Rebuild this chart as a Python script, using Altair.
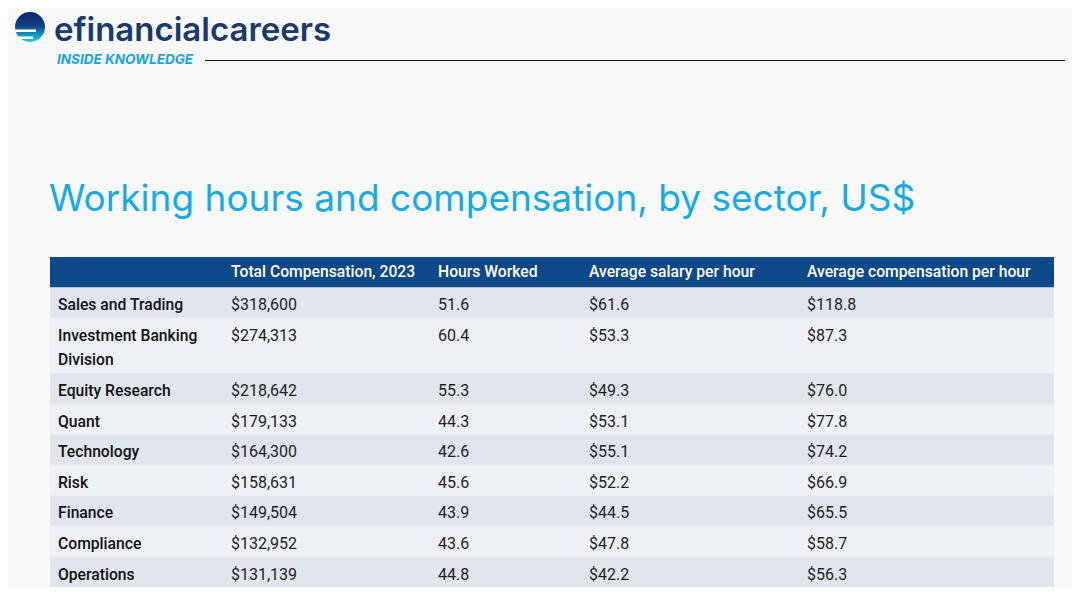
import textwrap
import altair as alt
import pandas as pd

# ---------------- data ----------------
sectors = ["Sales and Trading", "Investment Banking Division", "Equity Research", "Quant",
           "Technology", "Risk", "Finance", "Compliance", "Operations"]
total_comp = [318600, 274313, 218642, 179133, 164300, 158631, 149504, 132952, 131139]
hours_worked = [51.6, 60.4, 55.3, 44.3, 42.6, 45.6, 43.9, 43.6, 44.8]
salary_per_hour = [61.6, 53.3, 49.3, 53.1, 55.1, 52.2, 44.5, 47.8, 42.2]
comp_per_hour = [118.8, 87.3, 76.0, 77.8, 74.2, 66.9, 65.5, 58.7, 56.3]
column_headers = ["", "Total Compensation, 2023", "Hours Worked",
                  "Average salary per hour", "Average compensation per hour"]
title_text = "Working hours and compensation, by sector, US$"
brand_name = "efinancialcareers"
brand_tagline = "INSIDE KNOWLEDGE"

# ---------------- layout (page pixels) ----------------
OFF = 8
W, H = 1064, 579
TABLE_L, TABLE_R = 50, 1054
HEAD_T, HEAD_B = 257, 287.5
ROW_H, LINE_H = 30.6, 24.5
FIRST_BASE = 22.8
COL_X = [58, 231, 438, 589, 807]
FONT = "Roboto"
HEAD_BG = "#0d4888"
ROW_DARK, ROW_LIGHT = "#e1e6ee", "#edf0f5"

xs = alt.Scale(domain=[0, W], nice=False, zero=False)
ys = alt.Scale(domain=[0, H], reverse=True, nice=False, zero=False)


def X(f="x"):
    return alt.X(f"{f}:Q", scale=xs, axis=None)


def Y(f="y"):
    return alt.Y(f"{f}:Q", scale=ys, axis=None)


def px(v):
    return v - OFF


# ---------------- table frames ----------------
cells, rows = [], []
top = HEAD_B
for i, s in enumerate(sectors):
    lines = textwrap.wrap(s, width=18)
    h = ROW_H + LINE_H * (len(lines) - 1)
    rows.append({"x": px(TABLE_L), "x2": px(TABLE_R), "y": px(top), "y2": px(top + h),
                 "shade": "dark" if i % 2 == 0 else "light"})
    vals = ["\n".join(lines), f"${total_comp[i]:,}", f"{hours_worked[i]:.1f}",
            f"${salary_per_hour[i]:.1f}", f"${comp_per_hour[i]:.1f}"]
    for j, v in enumerate(vals):
        cells.append({"x": px(COL_X[j]), "y": px(top + FIRST_BASE), "label": v, "first": j == 0})
    top += h

rows_df = pd.DataFrame(rows)
cells_df = pd.DataFrame(cells)
head_df = pd.DataFrame([{"x": px(COL_X[j]), "y": px(HEAD_B - 10.5), "label": c}
                        for j, c in enumerate(column_headers) if c])
head_bg = pd.DataFrame([{"x": px(TABLE_L), "x2": px(TABLE_R), "y": px(HEAD_T), "y2": px(HEAD_B)}])

row_layer = alt.Chart(rows_df).mark_rect().encode(
    x=X(), x2="x2:Q", y=Y(), y2="y2:Q",
    color=alt.Color("shade:N", scale=alt.Scale(domain=["dark", "light"], range=[ROW_DARK, ROW_LIGHT]),
                    legend=None))
head_rect = alt.Chart(head_bg).mark_rect(color=HEAD_BG).encode(x=X(), x2="x2:Q", y=Y(), y2="y2:Q")
head_text = alt.Chart(head_df).mark_text(align="left", baseline="alphabetic", font=FONT, fontSize=15.7,
                                         fontWeight=500, color="white").encode(x=X(), y=Y(), text="label:N")
first_text = alt.Chart(cells_df[cells_df["first"]]).mark_text(
    align="left", baseline="alphabetic", font=FONT, fontSize=15.7, fontWeight=500, color="#111111",
    lineBreak="\n", lineHeight=LINE_H).encode(x=X(), y=Y(), text="label:N")
val_text = alt.Chart(cells_df[~cells_df["first"]]).mark_text(
    align="left", baseline="alphabetic", font=FONT, fontSize=16, color="#1e1e1e").encode(
    x=X(), y=Y(), text="label:N")

# ---------------- title & brand ----------------
title_df = pd.DataFrame([{"x": px(49), "y": px(211), "label": title_text}])
title_layer = alt.Chart(title_df).mark_text(align="left", baseline="alphabetic", font="Inter", fontSize=37,
                                            fontWeight=400, color="#13abe8").encode(
    x=X(), y=Y(), text="label:N")

brand_df = pd.DataFrame([{"x": px(54), "y": px(41), "label": brand_name}])
brand_layer = alt.Chart(brand_df).mark_text(align="left", baseline="alphabetic", font="Inter", fontSize=33,
                                            fontWeight=600, color="#183a6c").encode(
    x=X(), y=Y(), text="label:N")
tag_df = pd.DataFrame([{"x": px(57), "y": px(63.5), "label": brand_tagline}])
tag_layer = alt.Chart(tag_df).mark_text(align="left", baseline="alphabetic", font="Inter", fontSize=13.5,
                                        fontWeight="bold", fontStyle="italic", color="#19a4e0").encode(
    x=X(), y=Y(), text="label:N")
line_df = pd.DataFrame([{"x": px(205), "x2": px(1065), "y": px(60.5)}])
line_layer = alt.Chart(line_df).mark_rule(color="#111111", strokeWidth=1).encode(x=X(), x2="x2:Q", y=Y())

icon_df = pd.DataFrame([{"x": px(30), "y": px(27)}])
icon_layer = alt.Chart(icon_df).mark_point(
    filled=True, shape="circle", size=900, opacity=1,
    color=alt.LinearGradient(gradient="linear", x1=0, y1=0, x2=0, y2=1,
                             stops=[alt.GradientStop(color="#0b2566", offset=0),
                                    alt.GradientStop(color="#123f80", offset=0.45),
                                    alt.GradientStop(color="#18d6ea", offset=1)])).encode(x=X(), y=Y())
stripe_df = pd.DataFrame([{"x": px(12), "x2": px(36), "y": px(29.5), "y2": px(32)},
                          {"x": px(12), "x2": px(33), "y": px(36.5), "y2": px(39)}])
stripe_layer = alt.Chart(stripe_df).mark_rect(color="white").encode(x=X(), x2="x2:Q", y=Y(), y2="y2:Q")

chart = alt.layer(
    icon_layer, stripe_layer, brand_layer, tag_layer, line_layer, title_layer,
    head_rect, row_layer, head_text, first_text, val_text
).properties(
    width=W, height=H, padding=0, autosize=alt.AutoSizeParams(type="none"),
    background="#f8f8f8"
).configure_view(strokeWidth=0)

chart.save("out.html", embed_options={"renderer": "svg", "actions": False})
